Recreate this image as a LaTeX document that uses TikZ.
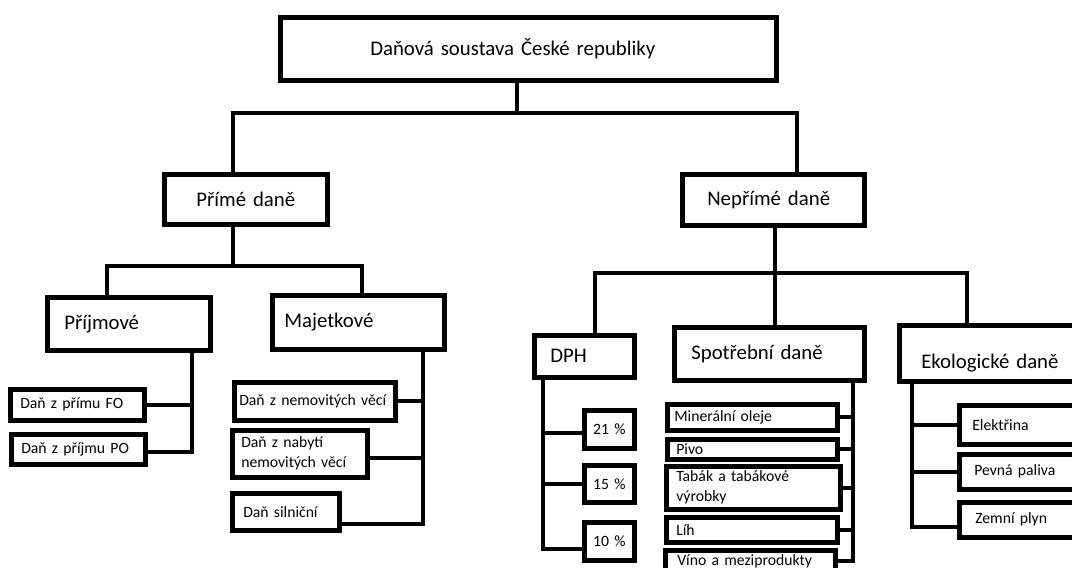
\documentclass[tikz,border=0pt]{standalone}
\usepackage{fontspec}
\setmainfont{Carlito}

\begin{document}
\begin{tikzpicture}[x=1pt,y=-1pt,
	box/.style={draw,line width=4.6pt,anchor=north west,align=left,inner ysep=0pt},
	big/.style={font=\fontsize{20.8}{24}\selectfont},
	small/.style={font=\fontsize{15.7}{20}\selectfont},
	wire/.style={line width=4pt}]
	\useasboundingbox (0,0) rectangle (1072,568);
	\clip (0,0) rectangle (1072,568);

	\draw (278,15) node[box,big,minimum height=63pt,inner xsep=90pt,text width=316pt] (root) {Daňová soustava České republiky}
		(162,172) node[box,big,minimum height=50pt,inner xsep=8pt,text width=147pt,align=center] (prime) {Přímé daně}
		(680,172) node[box,big,minimum height=51pt,inner xsep=25pt,text width=132pt] (nprime) {Nepřímé daně};

	\draw (45,295) node[box,big,minimum height=53pt,inner xsep=17pt,text width=129pt] (prijm) {Příjmové}
		(270,293) node[box,big,minimum height=54pt,inner xsep=12pt,text width=148pt] (majet) {Majetkové}
		(532,333) node[box,big,minimum height=42pt,inner xsep=16pt,text width=68pt] (dph) {DPH}
		(672,325) node[box,big,minimum height=53pt,inner xsep=17pt,text width=156pt] (spot) {Spotřební daně}
		(897,323) node[box,big,minimum height=56pt,inner xsep=22pt,text width=149pt,text height=34pt] (eko) {Ekologické daně};

	\draw (8,387) node[box,small,minimum height=31pt,inner xsep=10pt,text width=114pt] (fo) {Daň z přímu FO}
		(9,432) node[box,small,minimum height=30pt,inner xsep=10pt,text width=114pt] (po) {Daň z příjmu PO};

	\draw (232,380) node[box,small,minimum height=38pt,inner xsep=5pt,text width=151pt] (nem) {Daň z nemovitých věcí}
		(230,428) node[box,small,minimum height=47pt,inner xsep=9pt,text width=117pt] (nab) {Daň z nabytí\\nemovitých věcí}
		(230,491) node[box,small,minimum height=37pt,inner xsep=11pt,text width=85pt] (sil) {Daň silniční};

	\draw (582,408) node[box,small,minimum height=38pt,inner xsep=3pt,text width=44pt,align=center] (p21) {21 \%}
		(582,463) node[box,small,minimum height=37pt,inner xsep=3pt,text width=44pt,align=center] (p15) {15 \%}
		(582,520) node[box,small,minimum height=38pt,inner xsep=3pt,text width=44pt,align=center] (p10) {10 \%};

	\draw (665,402) node[box,small,minimum height=26pt,inner xsep=7pt,text width=156pt] (olej) {Minerální oleje}
		(665,437) node[box,small,minimum height=20pt,inner xsep=9pt,text width=152pt] (pivo) {Pivo}
		(664,464) node[box,small,minimum height=43pt,inner xsep=10pt,text width=154pt] (tabak) {Tabák a tabákové\\výrobky}
		(664,515) node[box,small,minimum height=25pt,inner xsep=10pt,text width=151pt] (lih) {Líh}
		(663,548) node[box,small,minimum height=22pt,inner xsep=12pt,text width=146pt] (vino) {Víno a meziprodukty};

	\draw (957,403) node[box,small,minimum height=39pt,inner xsep=13pt,text width=107pt] (ele) {Elektřina}
		(957,452) node[box,small,minimum height=35pt,inner xsep=15pt,text width=103pt] (pev) {Pevná paliva}
		(957,500) node[box,small,minimum height=35pt,inner xsep=16pt,text width=101pt] (zem) {Zemní plyn};

	\coordinate (r0) at (517,113);
	\coordinate (r1) at (233,113);
	\coordinate (r2) at (797,113);
	\draw[wire] (root.south -| r0) -- (r0);
	\draw[wire] (prime.north -| r1) |- (r2) -- (nprime.north -| r2);

	\coordinate (a0) at (233,266);
	\coordinate (a1) at (107,266);
	\coordinate (a2) at (362,266);
	\draw[wire] (prime.south -| a0) -- (a0);
	\draw[wire] (prijm.north -| a1) |- (a2) -- (majet.north -| a2);

	\coordinate (b0) at (775,273);
	\coordinate (b1) at (595,273);
	\coordinate (b2) at (967,273);
	\draw[wire] (nprime.south -| b0) -- (spot.north -| b0);
	\draw[wire] (dph.north -| b1) |- (b2) -- (eko.north -| b2);

	\coordinate (c0) at (192,455);
	\draw[wire] (prijm.south -| c0) |- ([yshift=-3pt]po.east);
	\draw[wire] (fo.east) -- (fo.east -| c0);

	\coordinate (d0) at (423,522);
	\draw[wire] (majet.south -| d0) |- ([yshift=-12pt]sil.east);
	\draw[wire] (nem.east) -- (nem.east -| d0);
	\draw[wire] ([yshift=-4pt]nab.east) -- ([yshift=-4pt]nab.east -| d0);

	\coordinate (e0) at (543,547);
	\draw[wire] (dph.south -| e0) |- ([yshift=-8pt]p10.west);
	\draw[wire] ([yshift=-4pt]p21.west) -- ([yshift=-4pt]p21.west -| e0);
	\draw[wire] (p15.west) -- (p15.west -| e0);

	\coordinate (f0) at (853,563);
	\draw[wire] (spot.south -| f0) -- (f0);
	\foreach \n in {olej,pivo,tabak,lih,vino}
		\draw[wire] (\n.east) -- (\n.east -| f0);

	\coordinate (g0) at (912,525);
	\draw[wire] (eko.south -| g0) |- ([yshift=-7pt]zem.west);
	\draw[wire] (ele.west) -- (ele.west -| g0);
	\draw[wire] (pev.west) -- (pev.west -| g0);
\end{tikzpicture}
\end{document}
